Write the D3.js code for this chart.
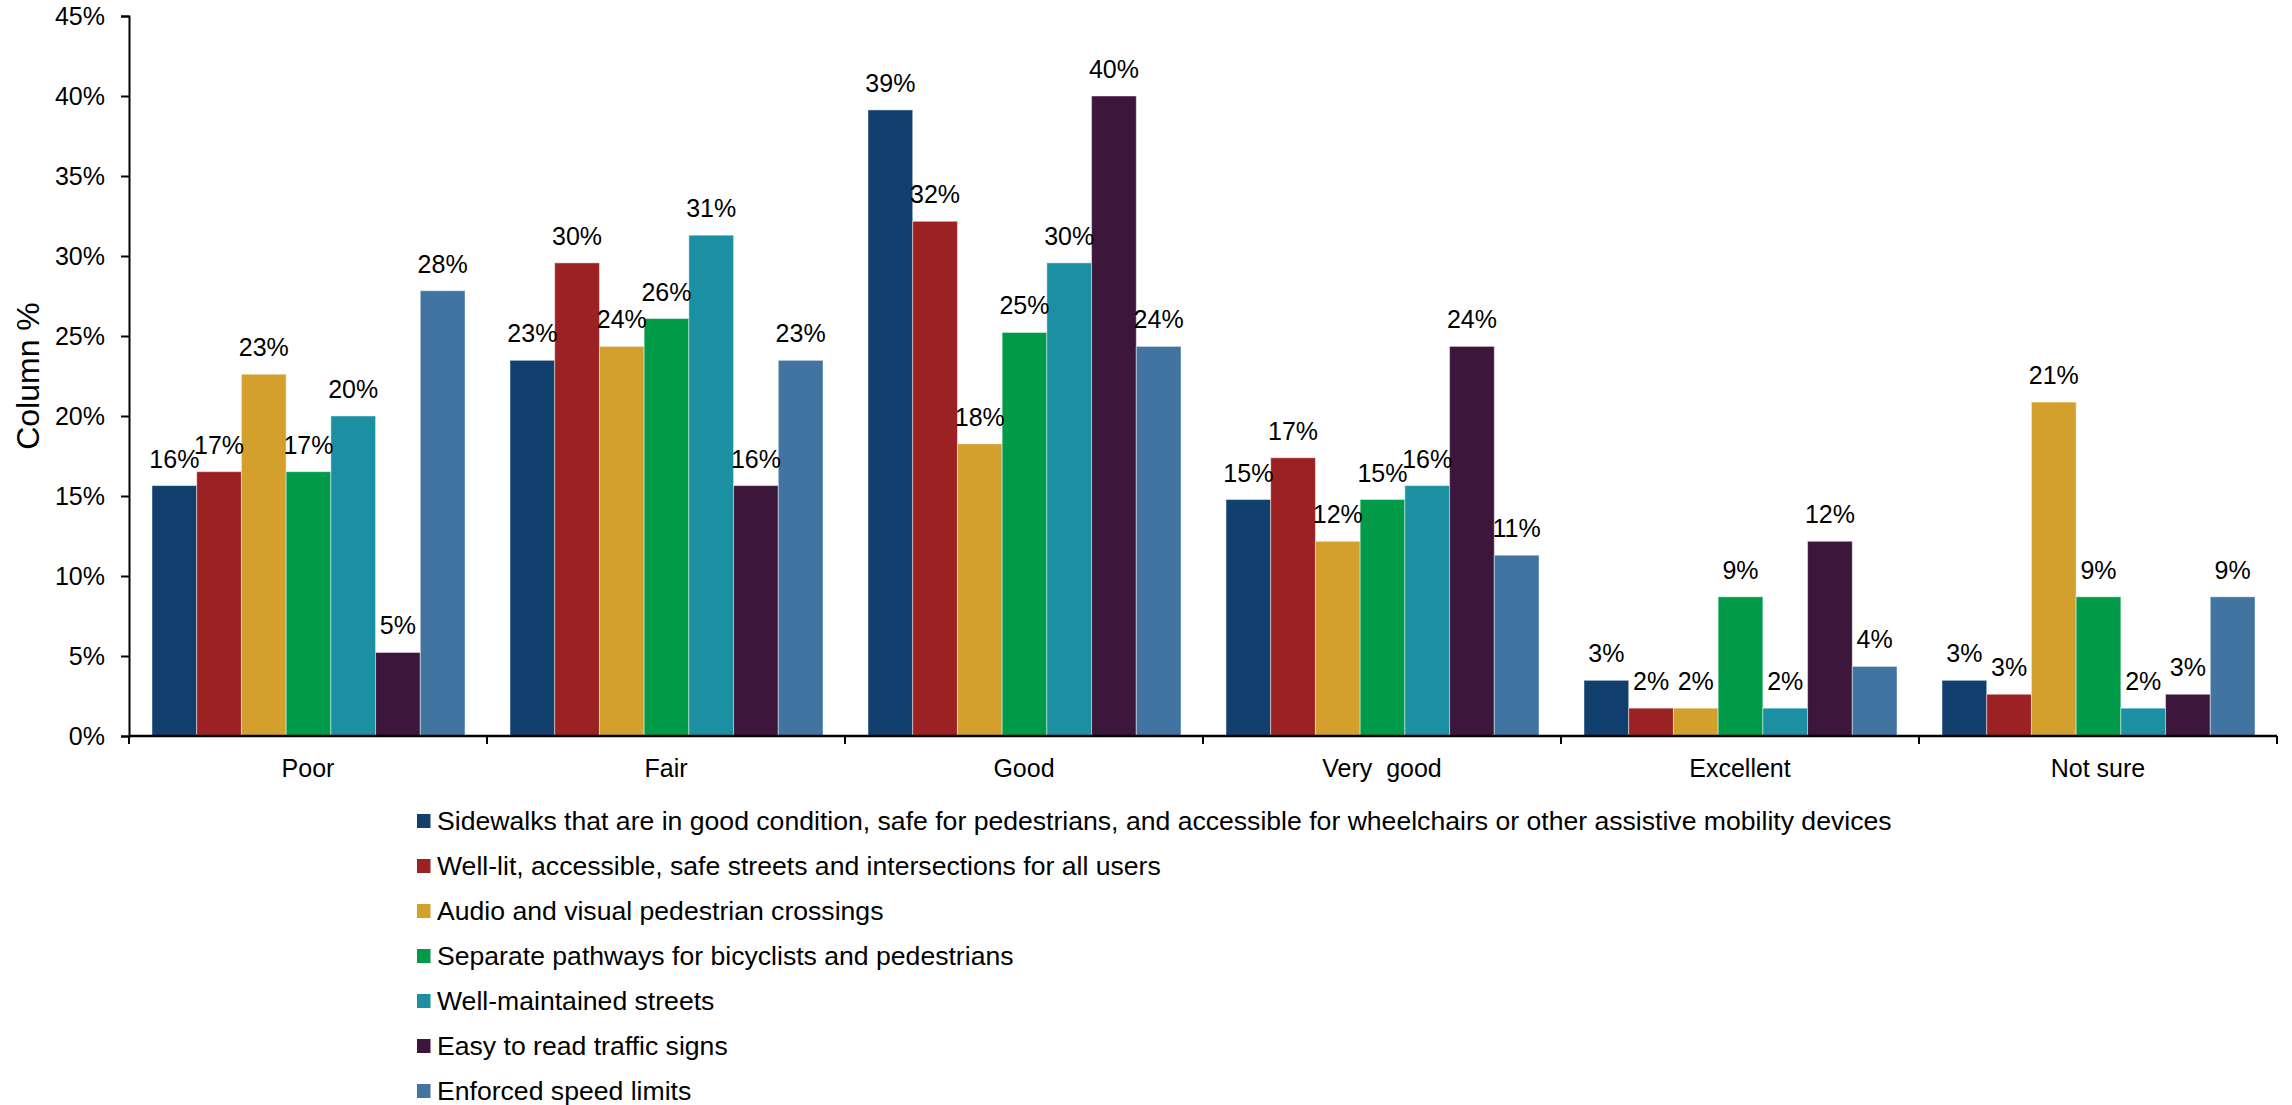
<!DOCTYPE html>
<html>
<head>
<meta charset="utf-8">
<script src="https://cdn.jsdelivr.net/npm/d3@7"></script>
<style>
  html, body { margin: 0; padding: 0; background: #fff; }
  svg { display: block; }
  text { font-family: "Liberation Sans", Arial, sans-serif; fill: #000; }
</style>
</head>
<body>
<svg id="chart" width="2292" height="1105"></svg>
<script>
const categories = ["Poor", "Fair", "Good", "Very  good", "Excellent", "Not sure"];
const seriesNames = [
  "Sidewalks that are in good condition, safe for pedestrians, and accessible for wheelchairs or other assistive mobility devices",
  "Well-lit, accessible, safe streets and intersections for all users",
  "Audio and visual pedestrian crossings",
  "Separate pathways for bicyclists and pedestrians",
  "Well-maintained streets",
  "Easy to read traffic signs",
  "Enforced speed limits"
];
const seriesColors = ["#12406E", "#9B2123", "#D4A02D", "#009A49", "#1C90A3", "#3D163C", "#4274A1"];
// values per series, in category order (percent)
const sidewalks      = [15.65, 23.48, 39.13, 14.78, 3.48, 3.48];
const wellLit        = [16.52, 29.57, 32.17, 17.39, 1.74, 2.61];
const audioVisual    = [22.61, 24.35, 18.26, 12.17, 1.74, 20.87];
const separatePaths  = [16.52, 26.09, 25.22, 14.78, 8.70, 8.70];
const wellMaintained = [20.00, 31.30, 29.57, 15.65, 1.74, 1.74];
const easySigns      = [5.22, 15.65, 40.00, 24.35, 12.17, 2.61];
const speedLimits    = [27.83, 23.48, 24.35, 11.30, 4.35, 8.70];
const seriesValues = [sidewalks, wellLit, audioVisual, separatePaths, wellMaintained, easySigns, speedLimits];
const yTicks = [0, 5, 10, 15, 20, 25, 30, 35, 40, 45];

(function draw() {
const svg = d3.select("#chart");
const pL = 129, pR = 2277, pT = 16, pB = 736;

const x0 = d3.scaleBand().domain(categories).range([pL, pR]).paddingInner(0).paddingOuter(0);
const x1 = d3.scaleBand().domain(d3.range(seriesNames.length))
  .range([23, x0.bandwidth() - 22]).paddingInner(0).paddingOuter(0);
const y = d3.scaleLinear().domain([0, 45]).range([pB, pT]);

const data = [];
categories.forEach((c, ci) => {
  seriesValues.forEach((vals, si) => data.push({ cat: c, si, v: vals[ci] }));
});

// bars
svg.append("g").selectAll("rect").data(data).join("rect")
  .attr("x", d => x0(d.cat) + x1(d.si))
  .attr("y", d => y(d.v))
  .attr("width", x1.bandwidth())
  .attr("height", d => y(0) - y(d.v))
  .attr("fill", d => seriesColors[d.si])
  .attr("stroke", "rgba(255,255,255,0.45)")
  .attr("stroke-width", 1);

// value labels
const fmt = d3.format(".0%");
svg.append("g").selectAll("text").data(data).join("text")
  .attr("x", d => x0(d.cat) + x1(d.si) + x1.bandwidth() / 2)
  .attr("y", d => y(d.v) - 18)
  .attr("text-anchor", "middle")
  .style("font-size", "25px")
  .text(d => fmt(d.v / 100));

// y axis
const yAxis = d3.axisLeft(y).tickValues(yTicks).tickSize(8).tickPadding(16)
  .tickFormat(d => d + "%");
const gy = svg.append("g").attr("transform", `translate(${pL},0)`).call(yAxis);
gy.select(".domain").attr("stroke", "#000").attr("stroke-width", 2);
gy.selectAll(".tick line").attr("stroke", "#000").attr("stroke-width", 2);
gy.selectAll(".tick text").style("font-size", "25px").style("font-family", "Liberation Sans, Arial, sans-serif").attr("fill", "#000");

// x axis: ticks at category boundaries
const boundaries = categories.map(c => x0(c)).concat([pR]);
const gx = svg.append("g");
gx.append("line").attr("x1", pL).attr("x2", pR).attr("y1", pB).attr("y2", pB)
  .attr("stroke", "#000").attr("stroke-width", 2.5);
gx.selectAll("line.tk").data(boundaries).join("line").attr("class", "tk")
  .attr("x1", d => d).attr("x2", d => d).attr("y1", pB).attr("y2", pB + 8)
  .attr("stroke", "#000").attr("stroke-width", 2);
gx.selectAll("text").data(categories).join("text")
  .attr("x", d => x0(d) + x0.bandwidth() / 2)
  .attr("y", 777)
  .attr("text-anchor", "middle")
  .style("font-size", "25px")
  .style("white-space", "pre")
  .attr("xml:space", "preserve")
  .text(d => d);

// y title
svg.append("text")
  .attr("transform", `translate(39,${(pT + pB) / 2}) rotate(-90)`)
  .attr("text-anchor", "middle")
  .style("font-size", "32px")
  .text("Column %");

// legend
const lg = svg.append("g").attr("transform", "translate(417,830)");
const items = lg.selectAll("g").data(seriesNames).join("g")
  .attr("transform", (d, i) => `translate(0,${i * 45})`);
items.append("rect").attr("x", 0).attr("y", -16).attr("width", 13.5).attr("height", 14)
  .attr("fill", (d, i) => seriesColors[i]);
items.append("text").attr("x", 20).attr("y", 0).style("font-size", "26.6px").text(d => d);
})();
</script>
</body>
</html>
